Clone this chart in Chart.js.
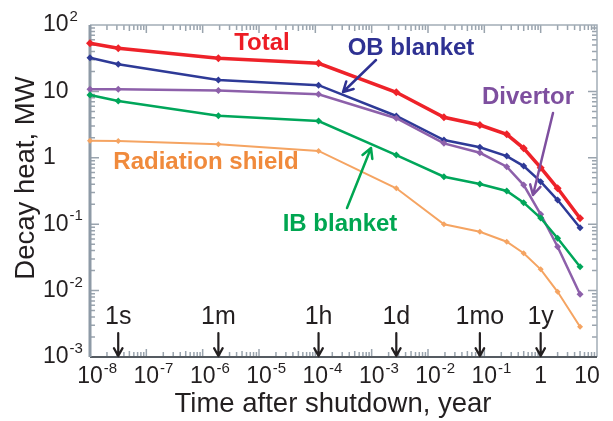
<!DOCTYPE html>
<html>
<head>
<meta charset="utf-8">
<script src="https://cdn.jsdelivr.net/npm/chart.js@4/dist/chart.umd.min.js"></script>
<style>
  body { margin: 0; background: #fff; }
  #wrap { width: 613px; height: 421px; position: relative; }
</style>
</head>
<body>
<div id="wrap"><canvas id="decay-chart"></canvas></div>
<script>
// Time after shutdown, in years
const timeYears = [1e-8, 3.17e-8, 1.9e-6, 1.14e-4, 2.74e-3, 1.92e-2, 8.33e-2, 0.25, 0.5, 1, 2, 5];

// Decay heat, MW
const totalHeat    = [53, 44.6, 31.5, 26.5, 9.7, 4.07, 3.12, 2.26, 1.39, 0.71, 0.347, 0.123];
const obBlanket    = [32.2, 25.6, 14.9, 12.4, 4.26, 1.85, 1.44, 1.06, 0.75, 0.437, 0.231, 0.0886];
const divertor     = [10.8, 10.8, 10.3, 9.05, 3.94, 1.65, 1.19, 0.734, 0.389, 0.141, 0.0458, 0.0088];
const ibBlanket    = [8.83, 7.17, 4.31, 3.58, 1.10, 0.519, 0.403, 0.316, 0.211, 0.124, 0.0613, 0.0229];
const radShield    = [1.81, 1.79, 1.60, 1.27, 0.347, 0.0997, 0.077, 0.0545, 0.0365, 0.0209, 0.0096, 0.00286];

// Axis ticks (exponents) and time markers
const xTickExp = [-8, -7, -6, -5, -4, -3, -2, -1, 0, 1];
const yTickExp = [-3, -2, -1, 0, 1, 2];
const markerLabels = ['1s', '1m', '1h', '1d', '1mo', '1y'];
const markerYears = [1 / 31557600, 60 / 31557600, 3600 / 31557600, 86400 / 31557600, 1 / 12, 1];

const FONT = '"Liberation Sans", Arial, sans-serif';

function series(values) {
    return values.map((v, i) => ({ x: timeYears[i], y: v }));
}

function makeDataset(label, values, color, width, radius) {
    return {
        label: label,
        data: series(values),
        borderColor: color,
        backgroundColor: color,
        borderWidth: width,
        pointStyle: 'rectRot',
        pointRadius: radius,
        pointBorderWidth: 0,
        tension: 0,
        clip: false
    };
}

function expLabel(ctx, e, x, y, align) {
    // draws 10^e (or 1 / 10) with a superscript exponent
    ctx.textBaseline = 'middle';
    let base, sup = '';
    if (e === 0) base = '1';
    else if (e === 1) base = '10';
    else { base = '10'; sup = String(e).replace('-', '-'); }
    ctx.font = '23px ' + FONT;
    const bw = ctx.measureText(base).width;
    ctx.font = '15px ' + FONT;
    const sw = sup ? ctx.measureText(sup).width : 0;
    let left;
    if (align === 'center') left = x - bw / 2;
    else if (align === 'right') left = x - bw - sw;
    else left = x;
    ctx.textAlign = 'left';
    ctx.font = '23px ' + FONT;
    ctx.fillText(base, left, y);
    if (sup) {
        ctx.font = '15px ' + FONT;
        ctx.fillText(sup, left + bw + 1, y - 8);
    }
}

function arrow(ctx, x1, y1, x2, y2, color, width, head) {
    const ang = Math.atan2(y2 - y1, x2 - x1);
    ctx.save();
    ctx.strokeStyle = color;
    ctx.lineWidth = width;
    ctx.lineCap = 'round';
    ctx.lineJoin = 'round';
    ctx.beginPath();
    ctx.moveTo(x1, y1);
    ctx.lineTo(x2, y2);
    ctx.moveTo(x2 - head * Math.cos(ang - 0.5), y2 - head * Math.sin(ang - 0.5));
    ctx.lineTo(x2, y2);
    ctx.lineTo(x2 - head * Math.cos(ang + 0.5), y2 - head * Math.sin(ang + 0.5));
    ctx.stroke();
    ctx.restore();
}

// Frame with inward log ticks on all four sides
const framePlugin = {
    id: 'frame',
    beforeDatasetsDraw(chart) {
        const { ctx, chartArea: a, scales } = chart;
        const xs = scales.x, ys = scales.y;
        ctx.save();
        ctx.strokeStyle = '#9aa4ae';
        ctx.lineWidth = 1.5;
        for (let d = -8; d < 1; d++) {
            for (let k = 1; k <= 9; k++) {
                const px = xs.getPixelForValue(k * Math.pow(10, d));
                const len = k === 1 ? 8 : (k === 5 ? 6 : 5);
                ctx.beginPath();
                ctx.moveTo(px, a.bottom); ctx.lineTo(px, a.bottom - len);
                ctx.moveTo(px, a.top); ctx.lineTo(px, a.top + len);
                ctx.stroke();
            }
        }
        for (let d = -3; d < 2; d++) {
            for (let k = 1; k <= 9; k++) {
                const py = ys.getPixelForValue(k * Math.pow(10, d));
                const len = k === 1 ? 9 : 5;
                ctx.beginPath();
                ctx.moveTo(a.left, py); ctx.lineTo(a.left + len, py);
                ctx.moveTo(a.right, py); ctx.lineTo(a.right - len, py);
                ctx.stroke();
            }
        }
        ctx.lineWidth = 1.5;
        ctx.strokeStyle = '#a3adb7';
        ctx.beginPath();
        ctx.moveTo(a.left, a.top); ctx.lineTo(a.right, a.top); ctx.lineTo(a.right, a.bottom);
        ctx.stroke();
        ctx.strokeStyle = '#555b61';
        ctx.lineWidth = 2;
        ctx.beginPath();
        ctx.moveTo(a.left, a.bottom); ctx.lineTo(a.right, a.bottom);
        ctx.stroke();
        ctx.strokeStyle = '#8e9aa6';
        ctx.lineWidth = 3;
        ctx.beginPath();
        ctx.moveTo(a.left, a.top); ctx.lineTo(a.left, a.bottom);
        ctx.stroke();
        ctx.restore();
    },
    afterDraw(chart) {
        const { ctx, chartArea: a, scales } = chart;
        const xs = scales.x, ys = scales.y;
        ctx.save();
        ctx.fillStyle = '#231f20';

        // tick labels
        xTickExp.forEach(e => {
            const px = xs.getPixelForValue(Math.pow(10, e));
            if (e === 1) {
                expLabel(ctx, e, px - 10, a.bottom + 20, 'center');
            } else {
                expLabel(ctx, e, px, a.bottom + 20, 'center');
            }
        });
        yTickExp.forEach(e => {
            const py = ys.getPixelForValue(Math.pow(10, e));
            expLabel(ctx, e, 43, py, 'left');
        });

        // axis titles
        ctx.font = '27.5px ' + FONT;
        ctx.textAlign = 'center';
        ctx.textBaseline = 'middle';
        ctx.fillText('Time after shutdown, year', 333, 404);
        ctx.save();
        ctx.translate(26, 178);
        ctx.rotate(-Math.PI / 2);
        ctx.fillText('Decay heat, MW', 0, 0);
        ctx.restore();

        // time markers
        ctx.font = '25px ' + FONT;
        markerLabels.forEach((lab, i) => {
            const px = xs.getPixelForValue(markerYears[i]);
            ctx.fillStyle = '#231f20';
            ctx.fillText(lab, px, 317);
            arrow(ctx, px, 333, px, a.bottom - 1, '#231f20', 2.2, 9);
        });

        // series labels
        ctx.font = 'bold 24px ' + FONT;
        const labels = [
            ['Total', 262, 43, '#ed1c24'],
            ['OB blanket', 411, 48, '#2e3192'],
            ['Divertor', 528, 97, '#7e4f9f'],
            ['Radiation shield', 206, 162, '#f08a3c'],
            ['IB blanket', 340, 224, '#00a651']
        ];
        labels.forEach(l => {
            ctx.fillStyle = l[3];
            ctx.fillText(l[0], l[1], l[2]);
        });
        arrow(ctx, 376, 60, 343, 92, '#2e3192', 2.5, 11);
        arrow(ctx, 553, 113, 533, 195, '#7e4f9f', 2.5, 11);
        arrow(ctx, 347, 208, 371, 148, '#00a651', 2.5, 11);
        ctx.restore();
    }
};

new Chart(document.getElementById('decay-chart'), {
    type: 'line',
    data: {
        datasets: [
            makeDataset('Radiation shield', radShield, '#f5a462', 2, 3),
            makeDataset('IB blanket', ibBlanket, '#00a65a', 2.5, 3.5),
            makeDataset('Divertor', divertor, '#8d60aa', 2.5, 3.5),
            makeDataset('OB blanket', obBlanket, '#2e3a97', 2.5, 3.5),
            makeDataset('Total', totalHeat, '#ee2229', 3.5, 4)
        ]
    },
    options: {
        responsive: true,
        maintainAspectRatio: false,
        animation: false,
        layout: { padding: { left: 90, right: 16, top: 25, bottom: 64 } },
        plugins: { legend: { display: false }, tooltip: { enabled: false } },
        scales: {
            x: { type: 'logarithmic', min: 1e-8, max: 10, display: false },
            y: { type: 'logarithmic', min: 1e-3, max: 100, display: false }
        }
    },
    plugins: [framePlugin]
});
</script>
</body>
</html>
